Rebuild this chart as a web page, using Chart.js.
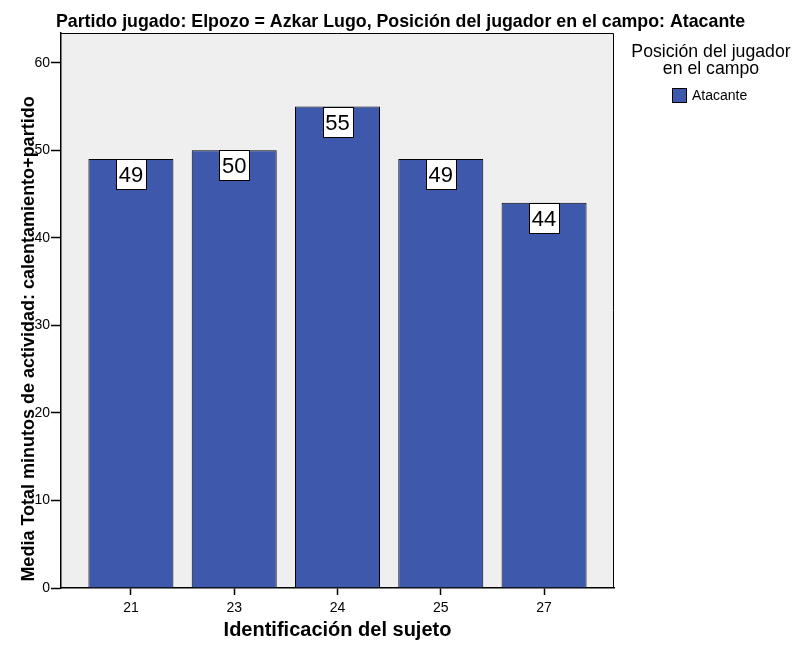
<!DOCTYPE html>
<html>
<head>
<meta charset="utf-8">
<script src="https://cdn.jsdelivr.net/npm/chart.js@4"></script>
<style>
  html, body { margin: 0; padding: 0; background: #fff; }
  #wrap { width: 797px; height: 646px; }
</style>
</head>
<body>
<div id="wrap"><canvas id="chart" width="797" height="646"></canvas></div>
<script>
// datos
const categories = ['21', '23', '24', '25', '27'];
const minutos = [49, 50, 55, 49, 44];
const yTicks = [0, 10, 20, 30, 40, 50, 60];
const seriesName = 'Atacante';
const chartTitle = 'Partido jugado: Elpozo = Azkar Lugo, Posición del jugador en el campo: Atacante';
const legendTitle = ['Posición del jugador', 'en el campo'];
const yTitle = 'Media Total minutos de actividad: calentamiento+partido';

const FONT = "'Liberation Sans', Arial, sans-serif";
const BAR_COLOR = '#3e58ac';
Chart.defaults.font.family = FONT;
Chart.defaults.color = '#000';

// fondo gris y marco del area de trazado
const plotBackground = {
    id: 'plotBackground',
    beforeDraw(chart) {
        const { ctx, chartArea: a } = chart;
        ctx.save();
        ctx.fillStyle = '#efefef';
        ctx.fillRect(a.left, a.top, a.right - a.left, a.bottom - a.top);
        ctx.strokeStyle = '#000';
        ctx.lineWidth = 1;
        ctx.beginPath();
        ctx.moveTo(a.left, a.top + 0.5);
        ctx.lineTo(a.right - 0.5, a.top + 0.5);
        ctx.lineTo(a.right - 0.5, a.bottom);
        ctx.stroke();
        ctx.restore();
    }
};

// etiquetas de valor en caja blanca
const valueBoxes = {
    id: 'valueBoxes',
    afterDatasetsDraw(chart) {
        const { ctx } = chart;
        const meta = chart.getDatasetMeta(0);
        ctx.save();
        ctx.font = '22px ' + FONT;
        ctx.textAlign = 'center';
        ctx.textBaseline = 'middle';
        meta.data.forEach((bar, i) => {
            const w = 30, h = 30;
            const x = Math.round(bar.x - w / 2) + 0.5;
            const y = Math.round(bar.y) + 0.5;
            ctx.fillStyle = '#fff';
            ctx.fillRect(x, y, w, h);
            ctx.strokeStyle = '#000';
            ctx.lineWidth = 1;
            ctx.strokeRect(x, y, w, h);
            ctx.fillStyle = '#000';
            ctx.fillText(String(minutos[i]), bar.x, y + h / 2 + 1);
        });
        ctx.restore();
    }
};

// titulo, titulo del eje Y y leyenda (la leyenda de SPSS lleva titulo en dos lineas)
const titlesAndLegend = {
    id: 'titlesAndLegend',
    afterDraw(chart) {
        const { ctx } = chart;
        ctx.save();
        ctx.fillStyle = '#000';
        ctx.textAlign = 'center';
        ctx.textBaseline = 'alphabetic';
        ctx.font = 'bold 17.8px ' + FONT;
        ctx.fillText(chartTitle, chart.width / 2 + 2, 27);

        ctx.save();
        ctx.translate(34, 339);
        ctx.rotate(-Math.PI / 2);
        ctx.font = 'bold 18px ' + FONT;
        ctx.fillText(yTitle, 0, 0);
        ctx.restore();

        ctx.font = '17.7px ' + FONT;
        ctx.fillText(legendTitle[0], 711, 57);
        ctx.fillText(legendTitle[1], 711, 74);

        ctx.fillStyle = BAR_COLOR;
        ctx.fillRect(672.5, 88.5, 14, 14);
        ctx.strokeStyle = '#000';
        ctx.lineWidth = 1;
        ctx.strokeRect(672.5, 88.5, 14, 14);

        ctx.fillStyle = '#000';
        ctx.textAlign = 'left';
        ctx.font = '14px ' + FONT;
        ctx.fillText(seriesName, 692, 100);
        ctx.restore();
    }
};

new Chart(document.getElementById('chart'), {
    type: 'bar',
    data: {
        datasets: [{
            label: seriesName,
            data: minutos.map((v, i) => ({ x: i, y: v })),
            backgroundColor: BAR_COLOR,
            borderColor: '#000',
            borderWidth: 1,
            barPercentage: 0.823,
            categoryPercentage: 1
        }]
    },
    options: {
        responsive: false,
        animation: false,
        layout: { padding: { top: 33, right: 183, left: 0, bottom: 0 } },
        plugins: {
            legend: { display: false },
            tooltip: { enabled: false }
        },
        scales: {
            x: {
                type: 'linear',
                offset: false,
                min: -0.677,
                max: 4.677,
                afterBuildTicks: s => { s.ticks = categories.map((c, i) => ({ value: i })); },
                afterFit: s => { s.height = 58; },
                ticks: {
                    callback: v => categories[v],
                    font: { size: 14 },
                    color: '#000',
                    padding: 5,
                    autoSkip: false,
                    maxRotation: 0
                },
                grid: { offset: false, drawOnChartArea: false, tickLength: 7, tickColor: '#000', tickWidth: 1.5 },
                border: { color: '#000', width: 1.5 },
                title: {
                    display: true,
                    text: 'Identificación del sujeto',
                    font: { size: 20, weight: 'bold' },
                    color: '#000',
                    padding: { top: 0, bottom: 4 }
                }
            },
            y: {
                min: 0,
                max: 63.4,
                afterBuildTicks: s => { s.ticks = yTicks.map(v => ({ value: v })); },
                afterFit: s => { s.width = 61; },
                ticks: { font: { size: 14 }, color: '#000', padding: 1 },
                grid: { drawOnChartArea: false, tickLength: 10, tickColor: '#000', tickWidth: 1.5 },
                border: { color: '#000', width: 1.5 }
            }
        }
    },
    plugins: [plotBackground, valueBoxes, titlesAndLegend]
});
</script>
</body>
</html>
